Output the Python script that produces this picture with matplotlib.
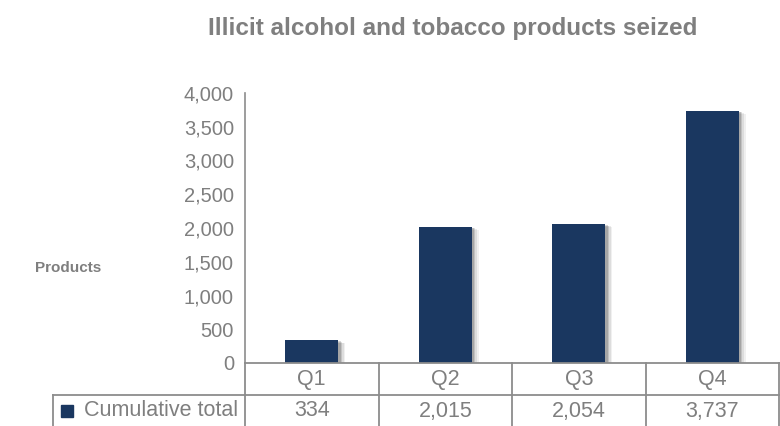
import matplotlib.pyplot as plt
import matplotlib.transforms as mtransforms
from matplotlib.patches import Rectangle

plt.rcParams['font.family'] = ['Liberation Sans', 'DejaVu Sans']

# data
quarters = ["Q1", "Q2", "Q3", "Q4"]
cumulative_total = [334, 2015, 2054, 3737]
series_name = "Cumulative total"
y_ticks = [0, 500, 1000, 1500, 2000, 2500, 3000, 3500, 4000]

navy = "#1A3760"
grey = "#7F7F7F"
line_grey = "#8C8C8C"

W, H = 780, 426
fig = plt.figure(figsize=(W / 100, H / 100), dpi=100)
ax = fig.add_axes([245 / W, 1 - 363 / H, 534 / W, 270 / H])

x = list(range(len(quarters)))
bar_w = 0.4

# soft shadow (offset, layered)
dx = 3.5 / 133.5
dy = 3.5 * 500 / 67.5
for k, a in [(1.6, 0.06), (1.2, 0.08), (0.8, 0.12), (0.5, 0.15)]:
    ax.bar([i + dx * k for i in x], cumulative_total, width=bar_w + 0.012 * k,
           bottom=[-dy * k] * len(x), color="#000000", alpha=a, zorder=1, linewidth=0)
ax.bar(x, cumulative_total, width=bar_w, color=navy, zorder=3, linewidth=0)

ax.set_xlim(-0.5, 3.5)
ax.set_ylim(0, 4000)
ax.set_yticks(y_ticks)
ax.set_yticklabels([f"{v:,}" for v in y_ticks])
ax.tick_params(axis="y", length=0, pad=8, labelsize=14.5, labelcolor=grey)
ax.set_xticks([])
for s in ["top", "right"]:
    ax.spines[s].set_visible(False)
ax.spines["left"].set_color(line_grey)
ax.spines["left"].set_linewidth(1.2)
ax.spines["bottom"].set_visible(False)

# data table below the axis
px = 1 / 270  # one pixel in axes-y units
row_h = 32 * px
trans = mtransforms.blended_transform_factory(ax.transData, ax.transAxes)
left_col = (245 - 53) / 534
lw = 1.3
ax.plot([-0.5, 3.5], [0, 0], transform=trans, color=line_grey, lw=lw, clip_on=False, zorder=5)
ax.plot([-0.5, 3.5], [-row_h, -row_h], transform=trans, color=line_grey, lw=lw, clip_on=False)
ax.plot([-left_col, 0], [-row_h, -row_h], transform=ax.transAxes, color=line_grey, lw=lw, clip_on=False)
ax.plot([-left_col, -left_col], [-row_h, -0.4], transform=ax.transAxes, color=line_grey, lw=lw, clip_on=False)
for b in [-0.5, 0.5, 1.5, 2.5, 3.5]:
    ax.plot([b, b], [0, -0.4], transform=trans, color=line_grey, lw=lw, clip_on=False)

for i, q in enumerate(quarters):
    ax.text(i, -16 * px, q, transform=trans, ha="center", va="center",
            fontsize=15.5, color=grey)
    ax.text(i, -48 * px, f"{cumulative_total[i]:,}", transform=trans,
            ha="center", va="center", fontsize=15.5, color=grey)

ax.add_patch(Rectangle((-(245 - 61) / 534, -54 * px), 12 / 534, 12 * px,
                       transform=ax.transAxes, color=navy, clip_on=False))
ax.text(-7 / 534, -48 * px, series_name, transform=ax.transAxes,
        ha="right", va="center", fontsize=15.5, color=grey)

fig.text(453 / W, 1 - 28 / H, "Illicit alcohol and tobacco products seized",
         ha="center", va="center", fontsize=17.5, fontweight="bold", color=grey)
fig.text(68 / W, 1 - 268 / H, "Products", ha="center", va="center",
         fontsize=11, fontweight="bold", color=grey)

fig.savefig("out.png", dpi=100)
